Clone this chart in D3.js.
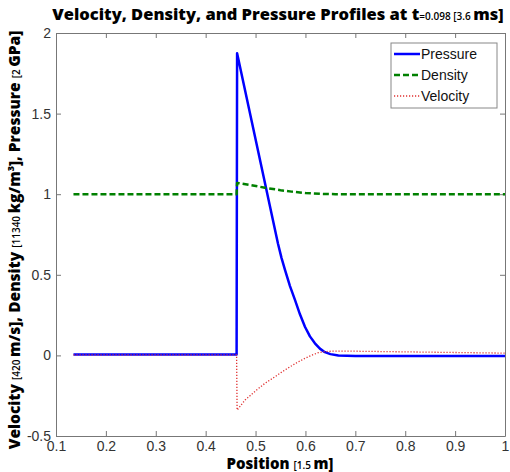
<!DOCTYPE html>
<html>
<head>
<meta charset="utf-8">
<script src="https://cdn.jsdelivr.net/npm/d3@7"></script>
<style>
  body { margin: 0; background: #fff; }
  .tick text { font-family: "Liberation Sans", Arial, sans-serif; font-size: 14px; fill: #333; }
  .bold { font-family: "Open Sans", "DejaVu Sans", sans-serif; font-weight: 800; }
</style>
</head>
<body>
<div id="chart"></div>
<script>
let svgWidth = 510;
let svgHeight = 472;

let margin = { top: 33, right: 5, bottom: 36, left: 56 };
let width = svgWidth - margin.left - margin.right;
let height = svgHeight - margin.top - margin.bottom;

// data
let pressureX = [0.135, 0.462, 0.463, 0.545, 0.552, 0.559, 0.569, 0.579, 0.589, 0.599, 0.609, 0.619, 0.629, 0.639, 0.65, 0.666, 0.70, 0.80, 1.0];
let pressureY = [0.005, 0.005, 1.874, 0.693, 0.605, 0.53, 0.43, 0.344, 0.255, 0.178, 0.118, 0.075, 0.042, 0.02, 0.008, 0.0, -0.003, -0.003, -0.003];

let densityX = [0.135, 0.462, 0.463, 0.49, 0.519, 0.55, 0.572, 0.60, 0.63, 0.66, 0.80, 1.0];
let densityY = [1.0, 1.0, 1.07, 1.057, 1.04, 1.025, 1.016, 1.007, 1.002, 1.0, 1.0, 1.0];

let velocityX = [0.135, 0.462, 0.463, 0.479, 0.50, 0.519, 0.54, 0.559, 0.58, 0.599, 0.613, 0.626, 0.638, 0.652, 0.70, 0.80, 0.90, 1.0];
let velocityY = [0.003, 0.003, -0.339, -0.277, -0.22, -0.173, -0.13, -0.09, -0.05, -0.018, 0.002, 0.017, 0.023, 0.026, 0.026, 0.022, 0.018, 0.014];

let xTicks = [0.1, 0.2, 0.3, 0.4, 0.5, 0.6, 0.7, 0.8, 0.9, 1];
let yTicks = [-0.5, 0, 0.5, 1, 1.5, 2];

let series = [
  { name: "Pressure", xs: pressureX, ys: pressureY, color: "#0000ff", width: 2.5, dash: null },
  { name: "Density", xs: densityX, ys: densityY, color: "#008000", width: 2.5, dash: "6,3" },
  { name: "Velocity", xs: velocityX, ys: velocityY, color: "#e03030", width: 1.3, dash: "1.2,1.8" }
];

let svg = d3.select("#chart")
  .append("svg")
  .attr("width", svgWidth)
  .attr("height", svgHeight);

let chartGroup = svg.append("g")
  .attr("transform", `translate(${margin.left}, ${margin.top})`);

let xScale = d3.scaleLinear().domain([0.1, 1]).range([0, width]);
let yScale = d3.scaleLinear().domain([-0.5, 2]).range([height, 0]);

let fmt = d => String(d);

// axes, ticks pointing inward like matlab
let bottomAxis = d3.axisBottom(xScale).tickValues(xTicks).tickFormat(fmt).tickSizeInner(-5).tickSizeOuter(0).tickPadding(5);
let topAxis = d3.axisTop(xScale).tickValues(xTicks).tickFormat("").tickSizeInner(-5).tickSizeOuter(0);
let leftAxis = d3.axisLeft(yScale).tickValues(yTicks).tickFormat(fmt).tickSizeInner(-5).tickSizeOuter(0).tickPadding(5);
let rightAxis = d3.axisRight(yScale).tickValues(yTicks).tickFormat("").tickSizeInner(-5).tickSizeOuter(0);

chartGroup.append("g").attr("transform", `translate(0, ${height})`).call(bottomAxis);
chartGroup.append("g").call(topAxis);
chartGroup.append("g").call(leftAxis);
chartGroup.append("g").attr("transform", `translate(${width}, 0)`).call(rightAxis);

chartGroup.selectAll(".domain").attr("stroke", "#777");
chartGroup.selectAll(".tick line").attr("stroke", "#777");

// lines
let line = d3.line()
  .x(d => xScale(d[0]))
  .y(d => yScale(d[1]));

series.forEach(function(s) {
  chartGroup.append("path")
    .datum(d3.zip(s.xs, s.ys))
    .attr("fill", "none")
    .attr("stroke", s.color)
    .attr("stroke-width", s.width)
    .attr("stroke-dasharray", s.dash)
    .attr("stroke-linejoin", "round")
    .attr("d", line);
});

// legend
let legend = svg.append("g").attr("transform", "translate(391, 43)");
legend.append("rect")
  .attr("width", 106).attr("height", 65)
  .attr("fill", "#fff").attr("stroke", "#888");
series.forEach(function(s, i) {
  let yy = 11 + i * 21;
  legend.append("line")
    .attr("x1", 3).attr("x2", 29).attr("y1", yy).attr("y2", yy)
    .attr("stroke", s.color)
    .attr("stroke-width", s.width)
    .attr("stroke-dasharray", s.dash);
  legend.append("text")
    .attr("x", 30).attr("y", yy + 5)
    .style("font-family", "'Liberation Sans', Arial, sans-serif")
    .style("font-size", "14px")
    .attr("fill", "#111")
    .text(s.name);
});

// title
let title = svg.append("text")
  .attr("x", 278).attr("y", 20)
  .attr("text-anchor", "middle")
  .attr("class", "bold")
  .style("font-size", "16.5px");
title.append("tspan").text("Velocity, Density, and Pressure Profiles at t");
title.append("tspan").style("font-size", "10px").style("font-weight", "600").text("=0.098 [3.6 ");
title.append("tspan").text("ms]");

// x label
let xLabel = svg.append("text")
  .attr("x", 280).attr("y", 469)
  .attr("text-anchor", "middle")
  .attr("class", "bold")
  .style("font-size", "15px");
xLabel.append("tspan").text("Position ");
xLabel.append("tspan").style("font-size", "10px").style("font-weight", "600").text("[1.5 ");
xLabel.append("tspan").text("m]");

// y label
let yLabel = svg.append("text")
  .attr("transform", "translate(20, 240) rotate(-90)")
  .attr("text-anchor", "middle")
  .attr("class", "bold")
  .style("font-size", "15.5px");
yLabel.append("tspan").text("Velocity ");
yLabel.append("tspan").style("font-size", "10px").style("font-weight", "600").text("[420 ");
yLabel.append("tspan").text("m/s], Density ");
yLabel.append("tspan").style("font-size", "10px").style("font-weight", "600").text("[11340 ");
yLabel.append("tspan").text("kg/m");
yLabel.append("tspan").style("font-size", "9px").attr("dy", -6).text("3");
yLabel.append("tspan").attr("dy", 6).text("], Pressure ");
yLabel.append("tspan").style("font-size", "10px").style("font-weight", "600").text("[2 ");
yLabel.append("tspan").text("GPa]");
</script>
</body>
</html>
